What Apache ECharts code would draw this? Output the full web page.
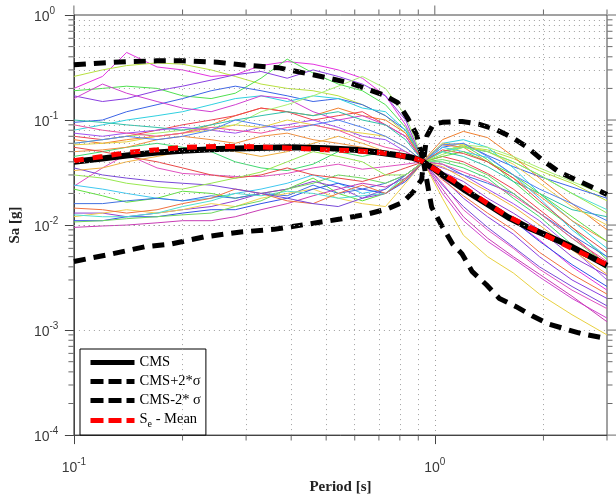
<!DOCTYPE html>
<html><head><meta charset="utf-8">
<script src="https://cdn.jsdelivr.net/npm/echarts@6/dist/echarts.min.js"></script>
<style>html,body{margin:0;padding:0;background:#fff}#c{width:616px;height:500px}</style>
</head><body><div id="c"></div>
<script>
// ---- record spectra (Sa in g) on a shared period grid ----
const periods = [0.1, 0.12, 0.14, 0.17, 0.2, 0.24, 0.28, 0.33, 0.39, 0.46, 0.54, 0.63, 0.73, 0.83, 0.93, 1.05, 1.2, 1.4, 1.65, 1.95, 2.4, 3.0];
const rec01 = [0.20, 0.26, 0.44, 0.32, 0.30, 0.26, 0.27, 0.33, 0.36, 0.34, 0.30, 0.25, 0.17, 0.09, 0.040, 0.030, 0.022, 0.017, 0.011, 0.0072, 0.004, 0.0024];
const rec02 = [0.26, 0.30, 0.33, 0.35, 0.34, 0.30, 0.26, 0.22, 0.20, 0.19, 0.17, 0.14, 0.11, 0.075, 0.040, 0.050, 0.056, 0.052, 0.043, 0.033, 0.025, 0.017];
const rec03 = [0.19, 0.20, 0.21, 0.20, 0.17, 0.16, 0.18, 0.25, 0.38, 0.28, 0.22, 0.19, 0.14, 0.085, 0.041, 0.050, 0.058, 0.042, 0.026, 0.016, 0.0095, 0.0047];
const rec04 = [0.17, 0.15, 0.16, 0.19, 0.21, 0.24, 0.27, 0.29, 0.25, 0.30, 0.26, 0.22, 0.17, 0.10, 0.040, 0.028, 0.018, 0.012, 0.0082, 0.005, 0.003, 0.002];
const rec05 = [0.095, 0.10, 0.12, 0.14, 0.16, 0.19, 0.21, 0.19, 0.17, 0.15, 0.16, 0.14, 0.11, 0.08, 0.040, 0.055, 0.060, 0.046, 0.036, 0.029, 0.023, 0.018];
const rec06 = [0.08, 0.09, 0.10, 0.11, 0.12, 0.14, 0.16, 0.17, 0.15, 0.17, 0.16, 0.13, 0.12, 0.08, 0.041, 0.060, 0.065, 0.055, 0.035, 0.020, 0.011, 0.006];
const rec07 = [0.065, 0.06, 0.065, 0.07, 0.075, 0.09, 0.11, 0.13, 0.12, 0.11, 0.13, 0.11, 0.10, 0.075, 0.041, 0.065, 0.078, 0.068, 0.045, 0.028, 0.016, 0.009];
const rec08 = [0.07, 0.065, 0.07, 0.08, 0.09, 0.10, 0.11, 0.13, 0.12, 0.10, 0.11, 0.12, 0.09, 0.07, 0.040, 0.045, 0.040, 0.031, 0.022, 0.014, 0.008, 0.0042];
const rec09 = [0.16, 0.22, 0.18, 0.15, 0.13, 0.12, 0.14, 0.17, 0.16, 0.12, 0.10, 0.11, 0.09, 0.07, 0.040, 0.020, 0.011, 0.007, 0.0048, 0.0032, 0.002, 0.0013];
const rec10 = [0.06, 0.065, 0.07, 0.075, 0.08, 0.085, 0.09, 0.12, 0.14, 0.17, 0.21, 0.26, 0.20, 0.11, 0.041, 0.050, 0.058, 0.055, 0.045, 0.035, 0.026, 0.019];
const rec11 = [0.10, 0.095, 0.09, 0.085, 0.08, 0.09, 0.10, 0.11, 0.12, 0.11, 0.12, 0.10, 0.09, 0.065, 0.040, 0.050, 0.045, 0.036, 0.026, 0.020, 0.014, 0.012];
const rec12 = [0.075, 0.07, 0.075, 0.08, 0.085, 0.08, 0.075, 0.085, 0.09, 0.10, 0.085, 0.07, 0.065, 0.05, 0.040, 0.035, 0.030, 0.022, 0.016, 0.011, 0.006, 0.003];
const rec13 = [0.058, 0.06, 0.062, 0.07, 0.075, 0.08, 0.09, 0.085, 0.10, 0.09, 0.08, 0.075, 0.07, 0.055, 0.040, 0.018, 0.008, 0.005, 0.0035, 0.0022, 0.0014, 0.0009];
const rec14 = [0.045, 0.05, 0.055, 0.06, 0.055, 0.05, 0.04, 0.035, 0.033, 0.038, 0.05, 0.045, 0.05, 0.045, 0.040, 0.040, 0.035, 0.028, 0.018, 0.012, 0.0065, 0.0038];
const rec15 = [0.0234, 0.035, 0.047, 0.035, 0.031, 0.030, 0.029, 0.029, 0.031, 0.035, 0.038, 0.034, 0.036, 0.038, 0.040, 0.025, 0.014, 0.009, 0.006, 0.0038, 0.0024, 0.0016];
const rec16 = [0.05, 0.052, 0.055, 0.065, 0.07, 0.065, 0.06, 0.07, 0.075, 0.065, 0.06, 0.055, 0.05, 0.045, 0.041, 0.058, 0.055, 0.040, 0.028, 0.019, 0.011, 0.007];
const rec17 = [0.024, 0.022, 0.02, 0.018, 0.017, 0.018, 0.02, 0.022, 0.025, 0.03, 0.025, 0.02, 0.022, 0.03, 0.040, 0.055, 0.050, 0.044, 0.030, 0.018, 0.009, 0.005];
const rec18 = [0.022, 0.019, 0.0165, 0.018, 0.021, 0.02, 0.018, 0.02, 0.022, 0.028, 0.02, 0.017, 0.02, 0.028, 0.040, 0.045, 0.050, 0.040, 0.030, 0.020, 0.012, 0.007];
const rec19 = [0.016, 0.016, 0.017, 0.018, 0.017, 0.019, 0.018, 0.02, 0.019, 0.024, 0.02, 0.022, 0.025, 0.03, 0.040, 0.038, 0.030, 0.025, 0.020, 0.013, 0.008, 0.005];
const rec20 = [0.013, 0.013, 0.012, 0.013, 0.014, 0.015, 0.017, 0.02, 0.022, 0.026, 0.023, 0.018, 0.02, 0.027, 0.040, 0.032, 0.026, 0.018, 0.013, 0.009, 0.005, 0.0033];
const rec21 = [0.012, 0.013, 0.014, 0.013, 0.014, 0.016, 0.015, 0.018, 0.02, 0.022, 0.018, 0.016, 0.015, 0.025, 0.040, 0.060, 0.058, 0.050, 0.038, 0.025, 0.015, 0.010];
const rec22 = [0.011, 0.011, 0.012, 0.012, 0.013, 0.014, 0.014, 0.016, 0.018, 0.022, 0.025, 0.022, 0.02, 0.026, 0.040, 0.030, 0.022, 0.016, 0.011, 0.007, 0.0042, 0.0026];
const rec23 = [0.0095, 0.0098, 0.01, 0.0105, 0.011, 0.011, 0.012, 0.014, 0.016, 0.019, 0.022, 0.025, 0.023, 0.028, 0.040, 0.022, 0.012, 0.0075, 0.005, 0.0034, 0.0021, 0.0012];
const rec24 = [0.0125, 0.012, 0.012, 0.013, 0.015, 0.017, 0.02, 0.019, 0.021, 0.02, 0.018, 0.019, 0.02, 0.03, 0.040, 0.050, 0.055, 0.050, 0.040, 0.030, 0.020, 0.014];
const rec25 = [0.0145, 0.014, 0.013, 0.014, 0.016, 0.018, 0.022, 0.02, 0.017, 0.016, 0.02, 0.024, 0.02, 0.027, 0.040, 0.027, 0.019, 0.013, 0.009, 0.0055, 0.0034, 0.0022];
const rec26 = [0.0107, 0.011, 0.0115, 0.012, 0.0125, 0.013, 0.015, 0.017, 0.022, 0.025, 0.03, 0.028, 0.025, 0.03, 0.040, 0.042, 0.038, 0.030, 0.020, 0.013, 0.0075, 0.0042];
const rec27 = [0.09, 0.08, 0.075, 0.07, 0.075, 0.085, 0.08, 0.075, 0.085, 0.09, 0.08, 0.065, 0.055, 0.05, 0.040, 0.038, 0.032, 0.026, 0.019, 0.013, 0.0075, 0.0045];
const rec28 = [0.06, 0.065, 0.07, 0.065, 0.07, 0.08, 0.10, 0.09, 0.08, 0.09, 0.10, 0.085, 0.07, 0.055, 0.040, 0.058, 0.060, 0.045, 0.030, 0.022, 0.016, 0.011];
const rec29 = [0.035, 0.03, 0.028, 0.026, 0.025, 0.024, 0.022, 0.02, 0.018, 0.016, 0.015, 0.018, 0.022, 0.03, 0.040, 0.024, 0.015, 0.0095, 0.0062, 0.004, 0.0026, 0.0017];
const rec30 = [0.055, 0.05, 0.045, 0.04, 0.035, 0.03, 0.028, 0.03, 0.035, 0.03, 0.028, 0.026, 0.03, 0.035, 0.040, 0.052, 0.048, 0.040, 0.028, 0.017, 0.0095, 0.0055];
const rec31 = [0.03, 0.028, 0.025, 0.023, 0.022, 0.025, 0.028, 0.032, 0.04, 0.05, 0.045, 0.04, 0.03, 0.03, 0.040, 0.047, 0.055, 0.050, 0.040, 0.030, 0.020, 0.013];
const rec32 = [0.033, 0.035, 0.04, 0.045, 0.05, 0.055, 0.05, 0.045, 0.05, 0.06, 0.07, 0.06, 0.05, 0.045, 0.040, 0.036, 0.028, 0.021, 0.015, 0.010, 0.0058, 0.0034];
const records = [rec01, rec02, rec03, rec04, rec05, rec06, rec07, rec08, rec09, rec10, rec11, rec12, rec13, rec14, rec15, rec16,
                 rec17, rec18, rec19, rec20, rec21, rec22, rec23, rec24, rec25, rec26, rec27, rec28, rec29, rec30, rec31, rec32];
const recordColors = ['#e433e0','#b8e040','#50e050','#8a3ee0','#3c64e6','#30d0e0','#f08030','#f04050','#d040d0','#a8f070','#30c0a8','#a050f0','#e8d040','#40d870','#e050c0','#f09040',
                      '#40c8f0','#60e040','#4070e0','#9040d0','#f0d050','#3050e8','#c83cb4','#50e0d0','#f07040','#70d860','#f050a0','#5080f0','#7848d8','#e84848','#98e850','#f0b040'];

// ---- CMS and bands ----
const cmsPeriods = [0.1, 0.12, 0.14, 0.17, 0.2, 0.25, 0.3, 0.4, 0.5, 0.6, 0.7, 0.8, 0.86, 0.9, 0.93, 0.96, 1.0, 1.05, 1.1, 1.2, 1.4, 1.6, 1.8, 2.0, 2.4, 3.0];
const cmsValues = [0.040, 0.043, 0.046, 0.049, 0.051, 0.053, 0.054, 0.055, 0.054, 0.052, 0.049, 0.046, 0.044, 0.042, 0.040, 0.037, 0.034, 0.030, 0.027, 0.022, 0.0158, 0.0118, 0.0096, 0.0082, 0.0062, 0.0041];
const meanValues = [0.041, 0.045, 0.049, 0.052, 0.055, 0.056, 0.056, 0.054, 0.052, 0.051, 0.049, 0.046, 0.044, 0.042, 0.040, 0.037, 0.034, 0.031, 0.028, 0.023, 0.016, 0.012, 0.0098, 0.0082, 0.006, 0.0042];
const plusPeriods = [0.1, 0.12, 0.14, 0.17, 0.2, 0.25, 0.29, 0.37, 0.46, 0.58, 0.72, 0.79, 0.84, 0.89, 0.93, 0.95, 0.99, 1.05, 1.19, 1.33, 1.48, 1.64, 1.79, 1.98, 2.21, 2.46, 2.72, 3.0];
const plusValues = [0.336, 0.35, 0.36, 0.366, 0.366, 0.355, 0.336, 0.314, 0.27, 0.226, 0.174, 0.146, 0.105, 0.073, 0.040, 0.07, 0.091, 0.095, 0.097, 0.091, 0.081, 0.068, 0.056, 0.042, 0.032, 0.027, 0.023, 0.0195];
const minusPeriods = [0.1, 0.127, 0.157, 0.186, 0.229, 0.29, 0.358, 0.444, 0.547, 0.65, 0.738, 0.816, 0.87, 0.92, 0.93, 0.98, 1.04, 1.12, 1.19, 1.27, 1.39, 1.51, 1.68, 1.86, 2.07, 2.31, 2.56, 3.0];
const minusValues = [0.0045, 0.0053, 0.0062, 0.0066, 0.0077, 0.0086, 0.0091, 0.0102, 0.0114, 0.0127, 0.0142, 0.0165, 0.0205, 0.0273, 0.040, 0.0148, 0.0102, 0.0066, 0.0053, 0.0036, 0.0027, 0.0020, 0.00167, 0.00137, 0.00114, 0.00102, 0.00092, 0.00083];

// ---- tick positions ----
const xMajorTicks = [0.1, 1];
const xMinorTicks = [0.2, 0.3, 0.4, 0.5, 0.6, 0.7, 0.8, 0.9, 2, 3];
const yMajorTicks = [1e-4, 1e-3, 1e-2, 1e-1, 1];
const yMinorTicks = [2e-4, 3e-4, 4e-4, 5e-4, 6e-4, 7e-4, 8e-4, 9e-4, 2e-3, 3e-3, 4e-3, 5e-3, 6e-3, 7e-3, 8e-3, 9e-3,
                     2e-2, 3e-2, 4e-2, 5e-2, 6e-2, 7e-2, 8e-2, 9e-2, 2e-1, 3e-1, 4e-1, 5e-1, 6e-1, 7e-1, 8e-1, 9e-1];

const X_MIN = 0.1, X_MAX = 3, Y_MIN = 1e-4, Y_MAX = 1;
const TICK = '#444';
const gridDot = { color: '#a0a0a0', type: [1, 4], width: 1 };

const pairs = (xs, ys) => xs.map((x, i) => [x, ys[i]]);
const expLabel = v => {
  const e = Math.log10(v), r = Math.round(e);
  if (Math.abs(e - r) > 1e-6) return '';
  return '{b|10}{s|' + r + '}';
};
const labelRich = {
  b: { fontFamily: 'Liberation Sans', fontSize: 14, color: '#3a3a3a', verticalAlign: 'bottom' },
  s: { fontFamily: 'Liberation Sans', fontSize: 10, color: '#3a3a3a', verticalAlign: 'bottom', padding: [0, 0, 8, 0] }
};

const tickSeries = (data, size, offset) => ({
  type: 'scatter', data: data, symbol: 'rect', symbolSize: size, symbolOffset: offset,
  itemStyle: { color: TICK }, silent: true, clip: false, z: 1, animation: false
});

const series = [];
series.push({
  type: 'scatter', data: [], silent: true, z: 1,
  markLine: {
    silent: true, symbol: ['none', 'none'], label: { show: false }, animation: false,
    lineStyle: gridDot, emphasis: { disabled: true },
    data: xMinorTicks.filter(v => v < X_MAX).map(v => ({ xAxis: v })).concat(yMinorTicks.map(v => ({ yAxis: v })))
  }
});
series.push(tickSeries(xMinorTicks.map(t => [t, Y_MIN]), [1, 5], [0, 3]));
series.push(tickSeries(xMinorTicks.map(t => [t, Y_MAX]), [1, 5], [0, -3]));
series.push(tickSeries(xMajorTicks.map(t => [t, Y_MAX]), [1, 9], [0, -5]));
series.push(tickSeries(yMinorTicks.map(v => [X_MIN, v]), [5, 1], [-3, 0]));
series.push(tickSeries(yMinorTicks.map(v => [X_MAX, v]), [5, 1], [3, 0]));
series.push(tickSeries(yMajorTicks.map(v => [X_MAX, v]), [9, 1], [5, 0]));

records.forEach((vals, i) => {
  series.push({
    type: 'line', name: 'record ' + (i + 1), data: pairs(periods, vals),
    symbol: 'none', showSymbol: false, silent: true, z: 2,
    lineStyle: { width: 1, color: recordColors[i] }, itemStyle: { color: recordColors[i] }
  });
});

series.push({ type: 'line', name: 'CMS', data: pairs(cmsPeriods, cmsValues), symbol: 'none', z: 3, silent: true,
  lineStyle: { width: 6, color: '#000' }, itemStyle: { color: '#000' } });
series.push({ type: 'line', name: 'CMS+2*σ', data: pairs(plusPeriods, plusValues), symbol: 'none', z: 3, silent: true,
  lineStyle: { width: 5, color: '#000', type: [12, 8] }, itemStyle: { color: '#000' } });
series.push({ type: 'line', name: 'CMS-2* σ', data: pairs(minusPeriods, minusValues), symbol: 'none', z: 3, silent: true,
  lineStyle: { width: 5, color: '#000', type: [12, 8] }, itemStyle: { color: '#000' } });
series.push({ type: 'line', name: 'S_e - Mean', data: pairs(cmsPeriods, meanValues), symbol: 'none', z: 4, silent: true,
  lineStyle: { width: 5, color: '#ff0000', type: [10, 9] }, itemStyle: { color: '#ff0000' } });

const legendDash = [13, 5];
const chart = echarts.init(document.getElementById('c'), null, { renderer: 'canvas' });
chart.setOption({
  animation: false,
  backgroundColor: '#fff',
  grid: { left: 72, right: 9, top: 15, bottom: 63, show: true, borderColor: TICK, borderWidth: 1, backgroundColor: 'transparent' },
  legend: {
    data: [
      { name: 'CMS', lineStyle: { width: 5, type: 'solid' } },
      { name: 'CMS+2*σ', lineStyle: { width: 5, type: legendDash } },
      { name: 'CMS-2* σ', lineStyle: { width: 5, type: legendDash } },
      { name: 'S_e - Mean', lineStyle: { width: 5, type: legendDash } }
    ],
    orient: 'vertical', left: 80, top: 349,
    backgroundColor: '#fff', borderColor: '#000', borderWidth: 1, borderRadius: 0,
    padding: [6, 5, 6, 8], itemWidth: 44, itemHeight: 14, itemGap: 4, selectedMode: false,
    itemStyle: { opacity: 0 },
    lineStyle: { width: 5 },
    formatter: name => name === 'S_e - Mean' ? '{n|S}{sub|e}{n| - Mean}' : name,
    textStyle: {
      fontFamily: 'Liberation Serif', fontSize: 14.5, color: '#000',
      rich: {
        n: { fontFamily: 'Liberation Serif', fontSize: 14.5, color: '#000', verticalAlign: 'top' },
        sub: { fontFamily: 'Liberation Serif', fontSize: 10, color: '#000', verticalAlign: 'top', padding: [7, 0, 0, 0] }
      }
    }
  },
  xAxis: {
    type: 'log', logBase: 10, min: X_MIN, max: X_MAX,
    name: 'Period [s]', nameLocation: 'middle', nameGap: 42,
    nameTextStyle: { fontFamily: 'Liberation Serif', fontWeight: 'bold', fontSize: 15, color: '#222' },
    axisLine: { show: true, lineStyle: { color: TICK, width: 1 } },
    axisTick: { show: true, length: 9, lineStyle: { color: TICK } },
    axisLabel: { show: true, margin: 22, showMinLabel: true, showMaxLabel: false, formatter: expLabel, rich: labelRich },
    splitLine: { show: true, lineStyle: gridDot }
  },
  yAxis: {
    type: 'log', logBase: 10, min: Y_MIN, max: Y_MAX,
    name: 'Sa [g]', nameLocation: 'middle', nameGap: 45,
    nameTextStyle: { fontFamily: 'Liberation Serif', fontWeight: 'bold', fontSize: 15, color: '#222' },
    axisLine: { show: true, lineStyle: { color: TICK, width: 1 } },
    axisTick: { show: true, length: 9, lineStyle: { color: TICK } },
    axisLabel: { show: true, align: 'left', margin: 40, showMinLabel: true, showMaxLabel: true, formatter: expLabel, rich: labelRich },
    splitLine: { show: true, lineStyle: gridDot }
  },
  series: series
});
</script></body></html>
